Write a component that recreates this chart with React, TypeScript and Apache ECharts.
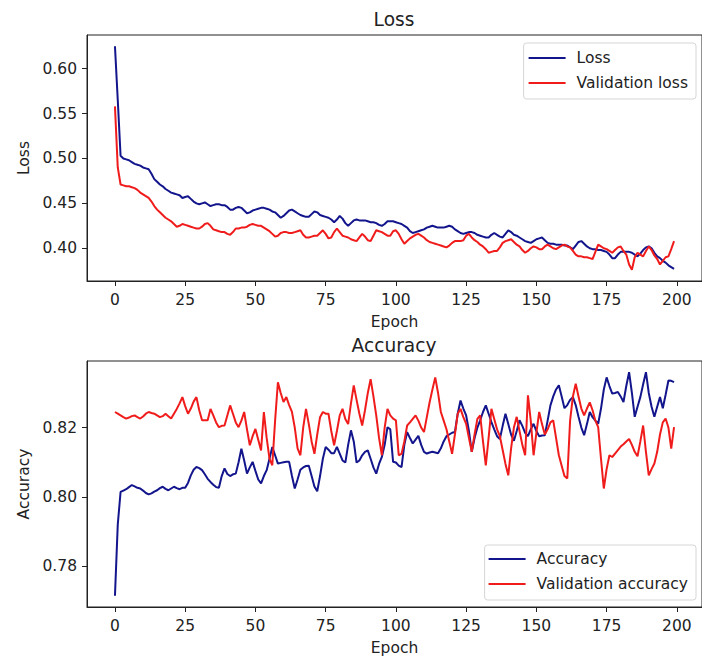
import React, { useEffect, useRef } from "react";
import * as echarts from "echarts";

const lossTrain = [
  0.625, 0.565, 0.503, 0.500, 0.499, 0.498, 0.496, 0.494, 0.493, 0.492,
  0.490, 0.489, 0.488, 0.483, 0.477, 0.474, 0.471, 0.469, 0.466, 0.464,
  0.462, 0.461, 0.460, 0.459, 0.456, 0.457, 0.458, 0.455, 0.452, 0.450,
  0.449, 0.450, 0.451, 0.449, 0.447, 0.448, 0.449, 0.449, 0.448, 0.448,
  0.446, 0.443, 0.443, 0.445, 0.446, 0.445, 0.442, 0.439, 0.440, 0.442,
  0.443, 0.444, 0.445, 0.445, 0.444, 0.443, 0.441, 0.440, 0.437, 0.434,
  0.436, 0.439, 0.442, 0.443, 0.441, 0.439, 0.437, 0.436, 0.435, 0.435,
  0.438, 0.441, 0.440, 0.437, 0.436, 0.435, 0.434, 0.432, 0.429, 0.432,
  0.436, 0.433, 0.428, 0.425, 0.428, 0.431, 0.432, 0.431, 0.431, 0.431,
  0.430, 0.429, 0.429, 0.428, 0.426, 0.425, 0.427, 0.430, 0.430, 0.430,
  0.429, 0.428, 0.427, 0.425, 0.423, 0.419, 0.417, 0.418, 0.419, 0.420,
  0.421, 0.423, 0.424, 0.425, 0.424, 0.423, 0.423, 0.423, 0.424, 0.425,
  0.424, 0.421, 0.419, 0.417, 0.416, 0.417, 0.418, 0.418, 0.417, 0.415,
  0.414, 0.413, 0.412, 0.412, 0.415, 0.417, 0.415, 0.413, 0.412, 0.416,
  0.420, 0.418, 0.415, 0.414, 0.412, 0.410, 0.408, 0.407, 0.406, 0.408,
  0.410, 0.411, 0.412, 0.409, 0.406, 0.405, 0.405, 0.404, 0.404, 0.404,
  0.403, 0.403, 0.401, 0.399, 0.403, 0.407, 0.408, 0.405, 0.402, 0.400,
  0.399, 0.399, 0.398, 0.398, 0.397, 0.396, 0.393, 0.389, 0.389, 0.393,
  0.396, 0.396, 0.396, 0.396, 0.395, 0.393, 0.391, 0.394, 0.398, 0.401,
  0.402, 0.400, 0.395, 0.391, 0.389, 0.386, 0.384, 0.381, 0.379, 0.377,
];

const lossVal = [
  0.558, 0.490, 0.471, 0.470, 0.469, 0.469, 0.468, 0.467, 0.465, 0.462,
  0.460, 0.458, 0.456, 0.452, 0.447, 0.443, 0.440, 0.437, 0.434, 0.432,
  0.430, 0.427, 0.424, 0.425, 0.427, 0.426, 0.425, 0.424, 0.423, 0.422,
  0.422, 0.424, 0.427, 0.428, 0.425, 0.421, 0.420, 0.419, 0.418, 0.418,
  0.416, 0.415, 0.418, 0.422, 0.422, 0.423, 0.423, 0.424, 0.426, 0.427,
  0.426, 0.425, 0.425, 0.423, 0.421, 0.419, 0.416, 0.413, 0.414, 0.417,
  0.418, 0.418, 0.417, 0.417, 0.418, 0.419, 0.420, 0.415, 0.412, 0.412,
  0.413, 0.414, 0.414, 0.417, 0.420, 0.416, 0.411, 0.412, 0.418, 0.422,
  0.418, 0.414, 0.413, 0.412, 0.410, 0.409, 0.408, 0.412, 0.416, 0.413,
  0.409, 0.408, 0.414, 0.420, 0.419, 0.418, 0.416, 0.414, 0.414, 0.419,
  0.420, 0.416, 0.410, 0.405, 0.408, 0.411, 0.413, 0.415, 0.416, 0.414,
  0.412, 0.409, 0.407, 0.406, 0.405, 0.404, 0.403, 0.402, 0.401, 0.403,
  0.406, 0.408, 0.408, 0.408, 0.409, 0.414, 0.416, 0.412, 0.409, 0.407,
  0.404, 0.402, 0.399, 0.395, 0.396, 0.397, 0.397, 0.401, 0.406, 0.408,
  0.409, 0.410, 0.407, 0.404, 0.402, 0.398, 0.395, 0.397, 0.400, 0.402,
  0.401, 0.399, 0.399, 0.402, 0.404, 0.402, 0.400, 0.399, 0.401, 0.403,
  0.404, 0.402, 0.401, 0.397, 0.393, 0.391, 0.391, 0.390, 0.390, 0.389,
  0.388, 0.396, 0.404, 0.402, 0.400, 0.399, 0.397, 0.395, 0.398, 0.401,
  0.402, 0.397, 0.393, 0.382, 0.376, 0.390, 0.395, 0.393, 0.391, 0.397,
  0.402, 0.398, 0.392, 0.388, 0.382, 0.386, 0.390, 0.391, 0.399, 0.408,
];

const accTrain = [
  0.7714, 0.7920, 0.8014, 0.8018, 0.8022, 0.8028, 0.8034, 0.8030, 0.8026, 0.8024,
  0.8018, 0.8011, 0.8007, 0.8010, 0.8015, 0.8019, 0.8025, 0.8029, 0.8023, 0.8019,
  0.8024, 0.8029, 0.8025, 0.8022, 0.8026, 0.8026, 0.8040, 0.8062, 0.8078, 0.8086,
  0.8083, 0.8077, 0.8065, 0.8052, 0.8043, 0.8035, 0.8028, 0.8026, 0.8060, 0.8082,
  0.8066, 0.8060, 0.8065, 0.8067, 0.8100, 0.8139, 0.8105, 0.8067, 0.8085, 0.8101,
  0.8075, 0.8050, 0.8039, 0.8060, 0.8077, 0.8110, 0.8144, 0.8120, 0.8096, 0.8098,
  0.8100, 0.8101, 0.8101, 0.8060, 0.8024, 0.8050, 0.8078, 0.8085, 0.8089, 0.8090,
  0.8060, 0.8030, 0.8016, 0.8060, 0.8110, 0.8144, 0.8136, 0.8126, 0.8126, 0.8144,
  0.8125, 0.8105, 0.8099, 0.8150, 0.8192, 0.8160, 0.8099, 0.8105, 0.8120, 0.8130,
  0.8134, 0.8110, 0.8085, 0.8067, 0.8095, 0.8115, 0.8150, 0.8201, 0.8195, 0.8101,
  0.8099, 0.8090, 0.8086, 0.8150, 0.8187, 0.8170, 0.8154, 0.8165, 0.8176, 0.8150,
  0.8130, 0.8125, 0.8128, 0.8130, 0.8128, 0.8126, 0.8140, 0.8160, 0.8175, 0.8180,
  0.8185, 0.8187, 0.8240, 0.8278, 0.8255, 0.8235, 0.8190, 0.8130, 0.8170, 0.8200,
  0.8221, 0.8245, 0.8264, 0.8240, 0.8216, 0.8195, 0.8175, 0.8167, 0.8205, 0.8240,
  0.8210, 0.8180, 0.8162, 0.8190, 0.8221, 0.8205, 0.8185, 0.8175, 0.8195, 0.8211,
  0.8190, 0.8175, 0.8177, 0.8178, 0.8220, 0.8264, 0.8290, 0.8310, 0.8322, 0.8290,
  0.8256, 0.8265, 0.8280, 0.8288, 0.8265, 0.8231, 0.8200, 0.8178, 0.8210, 0.8245,
  0.8230, 0.8220, 0.8211, 0.8255, 0.8310, 0.8345, 0.8320, 0.8298, 0.8300, 0.8303,
  0.8290, 0.8274, 0.8320, 0.8360, 0.8300, 0.8231, 0.8260, 0.8288, 0.8325, 0.8360,
  0.8300, 0.8260, 0.8231, 0.8260, 0.8288, 0.8256, 0.8295, 0.8336, 0.8335, 0.8331,
];

const accVal = [
  0.8245, 0.8240, 0.8235, 0.8230, 0.8226, 0.8229, 0.8233, 0.8235, 0.8230, 0.8226,
  0.8232, 0.8240, 0.8245, 0.8242, 0.8240, 0.8235, 0.8230, 0.8233, 0.8240, 0.8233,
  0.8226, 0.8240, 0.8254, 0.8270, 0.8288, 0.8262, 0.8240, 0.8255, 0.8275, 0.8288,
  0.8250, 0.8221, 0.8221, 0.8221, 0.8254, 0.8235, 0.8215, 0.8201, 0.8205, 0.8206,
  0.8235, 0.8264, 0.8240, 0.8215, 0.8201, 0.8220, 0.8245, 0.8195, 0.8149, 0.8175,
  0.8196, 0.8165, 0.8134, 0.8245, 0.8170, 0.8110, 0.8091, 0.8220, 0.8331, 0.8300,
  0.8274, 0.8288, 0.8265, 0.8245, 0.8200, 0.8140, 0.8120, 0.8200, 0.8254, 0.8210,
  0.8160, 0.8124, 0.8180, 0.8230, 0.8245, 0.8240, 0.8240, 0.8190, 0.8149, 0.8190,
  0.8235, 0.8254, 0.8225, 0.8210, 0.8270, 0.8322, 0.8280, 0.8240, 0.8206, 0.8250,
  0.8300, 0.8340, 0.8290, 0.8235, 0.8170, 0.8120, 0.8200, 0.8254, 0.8235, 0.8226,
  0.8221, 0.8120, 0.8124, 0.8160, 0.8206, 0.8215, 0.8225, 0.8235, 0.8220, 0.8200,
  0.8187, 0.8230, 0.8273, 0.8310, 0.8345, 0.8300, 0.8245, 0.8220, 0.8195, 0.8160,
  0.8124, 0.8180, 0.8240, 0.8254, 0.8230, 0.8211, 0.8170, 0.8130, 0.8180, 0.8225,
  0.8235, 0.8160, 0.8091, 0.8170, 0.8254, 0.8225, 0.8195, 0.8175, 0.8135, 0.8095,
  0.8062, 0.8140, 0.8200, 0.8231, 0.8190, 0.8150, 0.8120, 0.8293, 0.8220, 0.8120,
  0.8185, 0.8245, 0.8210, 0.8180, 0.8195, 0.8215, 0.8221, 0.8170, 0.8120, 0.8090,
  0.8060, 0.8053, 0.8220, 0.8290, 0.8327, 0.8290, 0.8255, 0.8235, 0.8255, 0.8273,
  0.8250, 0.8220, 0.8201, 0.8110, 0.8024, 0.8080, 0.8120, 0.8115, 0.8125, 0.8135,
  0.8145, 0.8152, 0.8160, 0.8167, 0.8150, 0.8130, 0.8117, 0.8160, 0.8206, 0.8130,
  0.8062, 0.8080, 0.8096, 0.8130, 0.8180, 0.8215, 0.8226, 0.8200, 0.8139, 0.8201,
];

const epochTicks = [0, 25, 50, 75, 100, 125, 150, 175, 200];
const lossTicks = [0.4, 0.45, 0.5, 0.55, 0.6];
const accTicks = [0.78, 0.8, 0.82];

const BLUE = "#13158c";
const RED = "#f01c1c";
const INK = "#222";
const FONT = "DejaVu Sans";
const FS = 15.5;

function padded(arrays: number[][]) {
  let lo = Infinity;
  let hi = -Infinity;
  arrays.forEach((a) => a.forEach((v) => { if (v < lo) lo = v; if (v > hi) hi = v; }));
  const m = (hi - lo) * 0.05;
  return [lo - m, hi + m];
}

function toPoints(a: number[]) {
  return a.map((v, i) => [i, v]);
}

export default function App() {
  const ref = useRef<HTMLDivElement>(null);

  useEffect(() => {
    document.body.style.margin = "0";
    if (!ref.current) return;
    const chart = echarts.init(ref.current, undefined, { renderer: "svg" });

    const n = lossTrain.length;
    const xm = (n - 1) * 0.05;
    const xMin = -xm;
    const xMax = n - 1 + xm;
    const [lMin, lMax] = padded([lossTrain, lossVal]);
    const [aMin, aMax] = padded([accTrain, accVal]);

    const tick = (vals: number[]) => ({
      show: true,
      inside: false,
      length: 5,
      lineStyle: { color: INK, width: 1 },
      customValues: vals,
    });
    const label = (vals: number[], fmt?: (v: number) => string, margin = 11) => ({
      show: true,
      customValues: vals,
      color: INK,
      fontSize: FS,
      fontFamily: FONT,
      margin,
      formatter: fmt,
    });
    const nameStyle = { color: INK, fontSize: FS, fontFamily: FONT };

    const xAxis = (gi: number) => ({
      type: "value",
      gridIndex: gi,
      min: xMin,
      max: xMax,
      name: "Epoch",
      nameLocation: "middle",
      nameGap: 33,
      nameTextStyle: nameStyle,
      axisLine: { show: true, onZero: false, lineStyle: { color: INK, width: 1 } },
      axisTick: tick(epochTicks),
      axisLabel: label(epochTicks, (v: number) => String(v)),
      splitLine: { show: false },
    });

    const yAxis = (gi: number, name: string, mn: number, mx: number, ticks: number[]) => ({
      type: "value",
      gridIndex: gi,
      min: mn,
      max: mx,
      name,
      nameLocation: "middle",
      nameGap: 55,
      nameTextStyle: nameStyle,
      axisLine: { show: true, onZero: false, lineStyle: { color: INK, width: 1 } },
      axisTick: tick(ticks),
      axisLabel: label(ticks, (v: number) => v.toFixed(2), 10),
      splitLine: { show: false },
    });

    const legendBase = {
      orient: "vertical",
      right: 6,
      icon: "rect",
      itemWidth: 37,
      itemHeight: 2,
      itemGap: 9,
      backgroundColor: "rgba(255,255,255,0.8)",
      borderColor: "#d6d6d6",
      borderWidth: 1,
      borderRadius: 3,
      textStyle: { color: INK, fontSize: FS, fontFamily: FONT, padding: [0, 0, 0, 6] },
    };

    const titleText = (text: string, y: number) => ({
      type: "text",
      x: 394,
      y,
      style: {
        text,
        align: "center",
        verticalAlign: "middle",
        fontSize: 18.6,
        fontFamily: FONT,
        fill: INK,
      },
    });

    const line = (name: string, data: number[], color: string, gi: number) => ({
      type: "line",
      name,
      xAxisIndex: gi,
      yAxisIndex: gi,
      data: toPoints(data),
      symbol: "none",
      showSymbol: false,
      lineStyle: { color, width: 2 },
      itemStyle: { color },
      emphasis: { disabled: true },
    });

    chart.setOption({
      animation: false,
      grid: [
        { left: 87, top: 35, width: 617, height: 246, show: true, borderColor: INK, borderWidth: 1, backgroundColor: "transparent" },
        { left: 87, top: 361, width: 617, height: 246, show: true, borderColor: INK, borderWidth: 1, backgroundColor: "transparent" },
      ],
      xAxis: [xAxis(0), xAxis(1)],
      yAxis: [
        yAxis(0, "Loss", lMin, lMax, lossTicks),
        yAxis(1, "Accuracy", aMin, aMax, accTicks),
      ],
      legend: [
        { ...legendBase, top: 43, padding: [7, 8, 8, 5], data: ["Loss", "Validation loss"] },
        { ...legendBase, top: 545, padding: [6, 8, 8, 4], data: ["Accuracy", "Validation accuracy"] },
      ],
      graphic: [titleText("Loss", 19), titleText("Accuracy", 345)],
      series: [
        line("Loss", lossTrain, BLUE, 0),
        line("Validation loss", lossVal, RED, 0),
        line("Accuracy", accTrain, BLUE, 1),
        line("Validation accuracy", accVal, RED, 1),
      ],
    });

    return () => chart.dispose();
  }, []);

  return <div ref={ref} style={{ width: 702, height: 660 }} />;
}
